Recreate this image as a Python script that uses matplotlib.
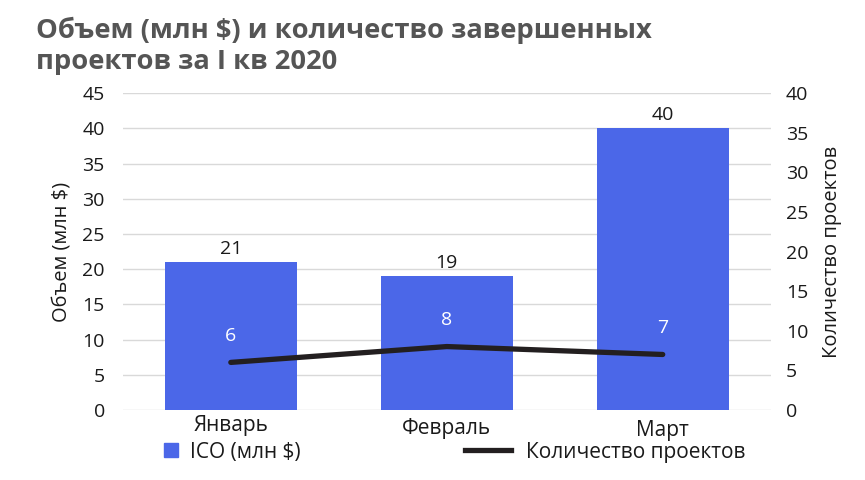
import numpy as np
import matplotlib.pyplot as plt
from matplotlib.lines import Line2D

plt.rcParams['font.family'] = ['Open Sans', 'DejaVu Sans']

# данные
months = ['Январь', 'Февраль', 'Март']
ico_volume = [21, 19, 40]        # млн $
projects = [6, 8, 7]             # количество проектов

bar_color = '#4B67E8'
line_color = '#231F20'
text_color = '#1a1a1a'

fig = plt.figure(figsize=(8.65, 4.8), dpi=100)
ax = fig.add_axes([0.142, 0.146, 0.749, 0.660])
ax2 = ax.twinx()

x = np.arange(len(months))
ax.bar(x, ico_volume, width=0.61, color=bar_color, zorder=2)
ax2.plot(x, projects, color=line_color, lw=3.8, solid_capstyle='round', zorder=3)

ax.set_xlim(-0.5, 2.5)
ax.set_ylim(0, 45)
ax2.set_ylim(0, 40)
ax.set_yticks(np.arange(0, 46, 5))
ax2.set_yticks(np.arange(0, 41, 5))
ax.grid(axis='y', color='#d9d9d9', lw=1, zorder=0)
ax.set_axisbelow(True)

for a in (ax, ax2):
    for s in a.spines.values():
        s.set_visible(False)
    a.tick_params(length=0, labelsize=14, colors=text_color)
ax.tick_params(axis='y', pad=13)
ax2.tick_params(axis='y', pad=11)

# подписи месяцев
ax.set_xticks(x)
ax.set_xticklabels([])
label_dy = [0, -0.012, -0.018]
for i, m in enumerate(months):
    ax.text(i, -0.015 + label_dy[i], m, transform=ax.get_xaxis_transform(),
            ha='center', va='top', fontsize=15, color=text_color)

# значения
for i, v in enumerate(ico_volume):
    ax.annotate(str(v), (i, v), xytext=(0, 3), textcoords='offset points',
                ha='center', va='bottom', fontsize=14, color=text_color)
for i, v in enumerate(projects):
    ax2.annotate(str(v), (i, v), xytext=(0, 19), textcoords='offset points',
                 ha='center', va='center', fontsize=14, color='white')

ax.set_ylabel('Объем (млн $)', fontsize=14.5, color=text_color, labelpad=8)
ax2.set_ylabel('Количество проектов', fontsize=14.5, color=text_color, labelpad=10)

fig.text(0.042, 0.937, 'Объем (млн $) и количество завершенных', fontsize=19.7,
         fontweight='bold', color='#555555', va='center')
fig.text(0.042, 0.870, 'проектов за I кв 2020', fontsize=19.7,
         fontweight='bold', color='#555555', va='center')

fig.legend([Line2D([], [], ls='none', marker='s', markersize=10, color=bar_color)],
           ['ICO (млн $)'], loc='center left', bbox_to_anchor=(0.188, 0.058),
           frameon=False, fontsize=15, handlelength=0.8, handletextpad=0.5,
           borderpad=0, borderaxespad=0, labelcolor=text_color)
fig.legend([Line2D([], [], color=line_color, lw=3.8)],
           ['Количество проектов'], loc='center left', bbox_to_anchor=(0.538, 0.058),
           frameon=False, fontsize=15, handlelength=2.2, handletextpad=0.7,
           borderpad=0, borderaxespad=0, labelcolor=text_color)

fig.savefig('out.png', dpi=100)
